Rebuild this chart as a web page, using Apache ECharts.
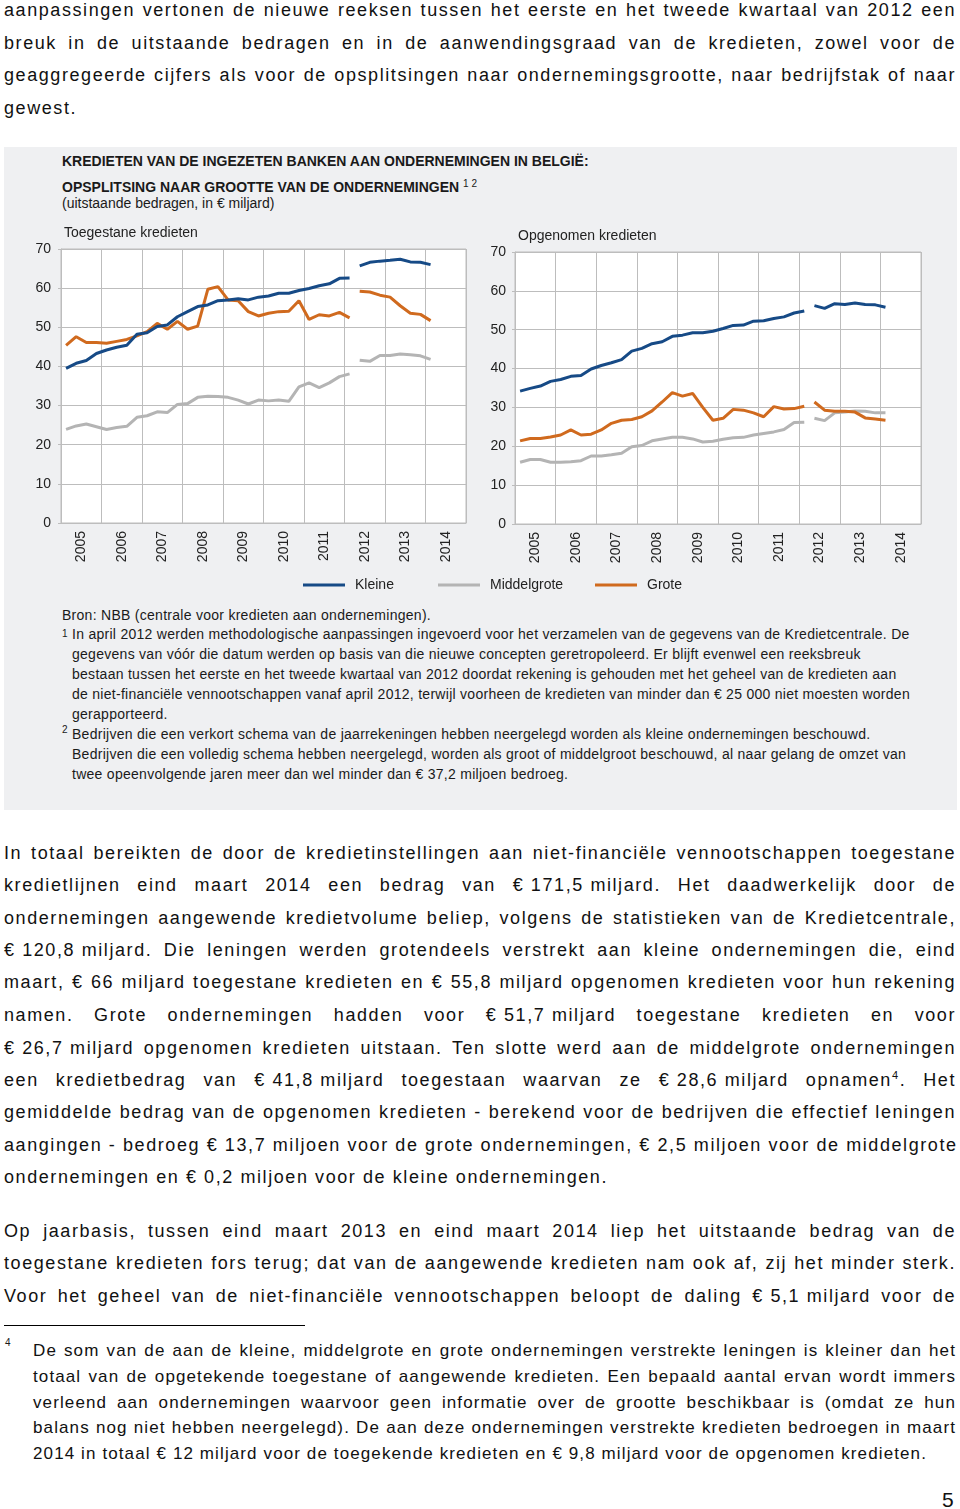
<!DOCTYPE html>
<html>
<head>
<meta charset="utf-8">
<script src="https://cdn.jsdelivr.net/npm/echarts@6/dist/echarts.min.js"></script>
<style>
  html, body { margin: 0; padding: 0; background: #fff; }
  body { width: 960px; height: 1509px; position: relative; overflow: hidden;
         font-family: "Liberation Sans", Arial, sans-serif; color: #111; }
  .ln { position: absolute; white-space: nowrap; }
  .body { left: 4px; width: 952px; font-size: 18px; height: 24px; line-height: 24px; }
  .fn { left: 33px; width: 923px; font-size: 17px; height: 22px; line-height: 22px; }
  .j { text-align: justify; text-align-last: justify; }
  .l { text-align: left; }
  .nb { display: inline-block; }
  sup { font-size: 11px; line-height: 0; vertical-align: 7px; }
  #box { position: absolute; left: 4px; top: 147px; width: 953px; height: 663px; background: #eff0f2; }
  .bx { position: absolute; white-space: nowrap; font-size: 14px; line-height: 18px; height: 18px; color: #1a1a1a; }
  .tb { font-weight: bold; }
  .mk { position: absolute; font-size: 10px; line-height: 12px; color: #1a1a1a; }
  #chart { position: absolute; left: 0; top: 220px; width: 960px; height: 380px; }
  #rule { position: absolute; left: 4px; top: 1325px; width: 301px; height: 0; border-top: 1.5px solid #000; }
</style>
</head>
<body>
<!-- paragraph before chart -->
<div class="ln body j" style="top:-2px">aanpassingen vertonen de nieuwe reeksen tussen het eerste en het tweede kwartaal van 2012 een</div>
<div class="ln body j" style="top:31px">breuk in de uitstaande bedragen en in de aanwendingsgraad van de kredieten, zowel voor de</div>
<div class="ln body j" style="top:63px">geaggregeerde cijfers als voor de opsplitsingen naar ondernemingsgrootte, naar bedrijfstak of naar</div>
<div class="ln body l" style="top:96px"><span>gewest.</span></div>

<div id="box"></div>
<div class="bx tb" style="left:62px; top:152px">KREDIETEN VAN DE INGEZETEN BANKEN AAN ONDERNEMINGEN IN BELGIË:</div>
<div class="bx tb" style="left:62px; top:175px">OPSPLITSING NAAR GROOTTE VAN DE ONDERNEMINGEN <span style="font-size:10px; vertical-align:5px; font-weight:normal">1 2</span></div>
<div class="bx" style="left:62px; top:194px">(uitstaande bedragen, in € miljard)</div>

<div id="chart"></div>

<div class="bx fb" id="bron" style="left:62px; top:606px"><span>Bron: NBB (centrale voor kredieten aan ondernemingen).</span></div>
<div class="mk" style="left:62px; top:628px">1</div>
<div class="bx fb" style="left:72px; top:625px">In april 2012 werden methodologische aanpassingen ingevoerd voor het verzamelen van de gegevens van de Kredietcentrale. De</div>
<div class="bx fb" style="left:72px; top:645px">gegevens van vóór die datum werden op basis van die nieuwe concepten geretropoleerd. Er blijft evenwel een reeksbreuk</div>
<div class="bx fb" style="left:72px; top:665px">bestaan tussen het eerste en het tweede kwartaal van 2012 doordat rekening is gehouden met het geheel van de kredieten aan</div>
<div class="bx fb" style="left:72px; top:685px">de niet-financiële vennootschappen vanaf april 2012, terwijl voorheen de kredieten van minder dan € 25 000 niet moesten worden</div>
<div class="bx fb" style="left:72px; top:705px">gerapporteerd.</div>
<div class="mk" style="left:62px; top:724px">2</div>
<div class="bx fb" style="left:72px; top:725px">Bedrijven die een verkort schema van de jaarrekeningen hebben neergelegd worden als kleine ondernemingen beschouwd.</div>
<div class="bx fb" style="left:72px; top:745px">Bedrijven die een volledig schema hebben neergelegd, worden als groot of middelgroot beschouwd, al naar gelang de omzet van</div>
<div class="bx fb" style="left:72px; top:765px">twee opeenvolgende jaren meer dan wel minder dan € 37,2 miljoen bedroeg.</div>

<!-- paragraph after chart -->
<div class="ln body j" style="top:841px">In totaal bereikten de door de kredietinstellingen aan niet-financiële vennootschappen toegestane</div>
<div class="ln body j" style="top:873px">kredietlijnen eind maart 2014 een bedrag van <span class="nb">€ 171,5 miljard</span>. Het daadwerkelijk door de</div>
<div class="ln body j" style="top:906px">ondernemingen aangewende kredietvolume beliep, volgens de statistieken van de Kredietcentrale,</div>
<div class="ln body j" style="top:938px"><span class="nb">€ 120,8 miljard</span>. Die leningen werden grotendeels verstrekt aan kleine ondernemingen die, eind</div>
<div class="ln body j" style="top:970px">maart, € 66 miljard toegestane kredieten en € 55,8 miljard opgenomen kredieten voor hun rekening</div>
<div class="ln body j" style="top:1003px">namen. Grote ondernemingen hadden voor <span class="nb">€ 51,7 miljard</span> toegestane kredieten en voor</div>
<div class="ln body j" style="top:1036px"><span class="nb">€ 26,7 miljard</span> opgenomen kredieten uitstaan. Ten slotte werd aan de middelgrote ondernemingen</div>
<div class="ln body j" style="top:1068px">een kredietbedrag van <span class="nb">€ 41,8 miljard</span> toegestaan waarvan ze <span class="nb">€ 28,6 miljard</span> opnamen<sup>4</sup>. Het</div>
<div class="ln body j" style="top:1100px">gemiddelde bedrag van de opgenomen kredieten - berekend voor de bedrijven die effectief leningen</div>
<div class="ln body j" style="top:1133px">aangingen - bedroeg <span class="nb">€ 13,7 miljoen</span> voor de grote ondernemingen, <span class="nb">€ 2,5 miljoen</span> voor de middelgrote</div>
<div class="ln body l" style="top:1165px"><span id="p2last">ondernemingen en € 0,2 miljoen voor de kleine ondernemingen.</span></div>

<div class="ln body j" style="top:1219px">Op jaarbasis, tussen eind maart 2013 en eind maart 2014 liep het uitstaande bedrag van de</div>
<div class="ln body j" style="top:1251px">toegestane kredieten fors terug; dat van de aangewende kredieten nam ook af, zij het minder sterk.</div>
<div class="ln body j" style="top:1284px">Voor het geheel van de niet-financiële vennootschappen beloopt de daling <span class="nb">€ 5,1 miljard</span> voor de</div>

<div id="rule"></div>
<div class="mk" style="left:5px; top:1337px">4</div>
<div class="ln fn j" style="top:1340px">De som van de aan de kleine, middelgrote en grote ondernemingen verstrekte leningen is kleiner dan het</div>
<div class="ln fn j" style="top:1366px">totaal van de opgetekende toegestane of aangewende kredieten. Een bepaald aantal ervan wordt immers</div>
<div class="ln fn j" style="top:1392px">verleend aan ondernemingen waarvoor geen informatie over de grootte beschikbaar is (omdat ze hun</div>
<div class="ln fn j" style="top:1417px">balans nog niet hebben neergelegd). De aan deze ondernemingen verstrekte kredieten bedroegen in maart</div>
<div class="ln fn l" style="top:1443px"><span id="fnlast">2014 in totaal € 12 miljard voor de toegekende kredieten en € 9,8 miljard voor de opgenomen kredieten.</span></div>

<div class="ln" style="left:942px; top:1488px; font-size:21px; line-height:24px;">5</div>

<script>
// ---------------- data ----------------
const years = ['2005','2006','2007','2008','2009','2010','2011','2012','2013','2014'];
const quarters = [];
years.forEach(y => ['K1','K2','K3','K4'].forEach(q => quarters.push(y + ' ' + q)));
// first quarter of the new series (2012 K2); series break between 2012 K1 and 2012 K2
const breakIndex = 29;

const seriesNames = ['Kleine', 'Middelgrote', 'Grote'];

// Toegestane kredieten (2005 K1 .. 2014 K1)
const toegestaanKleine = [39.5,40.8,41.5,43.3,44.2,44.9,45.4,48.2,48.6,50.2,50.6,52.7,54.0,55.3,55.7,56.8,57.0,57.3,57.0,57.7,58.0,58.7,58.7,59.4,59.9,60.6,61.1,62.5,62.6,
                          65.7,66.6,66.9,67.1,67.4,66.7,66.6,66.0];
const toegestaanMiddelgrote = [23.9,24.8,25.3,24.6,23.9,24.4,24.7,27.0,27.4,28.4,28.2,30.3,30.5,32.1,32.4,32.3,32.1,31.4,30.4,31.4,31.2,31.4,31.1,34.8,35.8,34.6,35.8,37.4,38.1,
                          41.6,41.3,42.8,42.8,43.2,43.0,42.7,41.8];
const toegestaanGrote = [45.4,47.6,46.1,46.1,45.9,46.4,46.9,47.8,48.9,51.0,49.5,51.5,49.5,50.3,59.7,60.4,57.0,56.8,54.0,52.9,53.6,54.0,54.1,56.8,52.0,53.2,52.9,53.8,52.4,
                          59.2,59.0,58.2,57.7,55.5,53.6,53.3,51.7];

// Opgenomen kredieten
const opgenomenKleine = [34.2,34.9,35.5,36.7,37.2,38.0,38.2,39.9,40.8,41.5,42.3,44.5,45.2,46.4,46.9,48.3,48.6,49.2,49.2,49.6,50.3,51.1,51.2,52.2,52.3,52.9,53.3,54.3,54.8,
                         56.2,55.5,56.7,56.5,56.9,56.5,56.4,55.8];
const opgenomenMiddelgrote = [15.9,16.6,16.6,15.9,15.9,16.0,16.3,17.5,17.5,17.8,18.2,19.9,20.2,21.4,21.9,22.3,22.3,21.9,21.1,21.3,21.8,22.2,22.3,22.9,23.3,23.7,24.3,26.1,26.2,
                         27.2,26.6,28.6,28.8,29.1,29.0,28.6,28.6];
const opgenomenGrote = [21.4,22.0,22.0,22.4,22.9,24.2,22.9,23.1,24.2,25.9,26.7,26.9,27.6,29.1,31.4,33.8,32.9,33.6,30.0,26.7,27.2,29.5,29.3,28.6,27.6,30.2,29.6,29.7,30.3,
                         31.4,29.3,29.0,29.0,28.8,27.3,27.0,26.7];

const yTicks = { min: 0, max: 70, interval: 10 };

// ---------------- text fitting ----------------
function fitGroup(sel, refEl, target) {
  const els = document.querySelectorAll(sel);
  els.forEach(e => e.style.letterSpacing = '0px');
  const w = refEl.getBoundingClientRect().width;
  const n = refEl.textContent.length;
  const ls = (target - w) / n;
  els.forEach(e => e.style.letterSpacing = ls + 'px');
}
fitGroup('.body', document.getElementById('p2last'), 604);
fitGroup('.fn', document.getElementById('fnlast'), 894);
fitGroup('.fb', document.querySelector('#bron span'), 369);

// ---------------- chart ----------------
const colors = { Kleine: '#164a86', Middelgrote: '#b4b4b4', Grote: '#d06a1e' };
const FONT = '"Liberation Sans", Arial, sans-serif';
const gridColor = '#bdbdbd';

const grids = [
  { left: 61, top: 29, width: 405, height: 274 },
  { left: 515, top: 32, width: 406, height: 272 }
];

function split(arr) {
  const full = quarters.map((q, i) => (i < arr.length ? arr[i] : null));
  return [
    full.map((v, i) => (i < breakIndex ? v : null)),
    full.map((v, i) => (i >= breakIndex ? v : null))
  ];
}

const xAxes = [], yAxes = [], series = [];
grids.forEach((g, gi) => {
  xAxes.push({
    type: 'category', gridIndex: gi, data: quarters, boundaryGap: true, show: false, position: 'top'
  });
  xAxes.push({
    type: 'category', gridIndex: gi, data: years, boundaryGap: true, position: 'bottom',
    axisLine: { show: true, lineStyle: { color: gridColor, width: 1 } },
    axisTick: { show: false },
    splitLine: { show: true, lineStyle: { color: gridColor, width: 1 } },
    axisLabel: { rotate: 90, fontSize: 14, color: '#222', fontFamily: FONT, margin: 8, interval: 0 }
  });
  yAxes.push({
    type: 'value', gridIndex: gi, min: yTicks.min, max: yTicks.max, interval: yTicks.interval,
    axisLine: { show: true, lineStyle: { color: gridColor, width: 1 } },
    axisTick: { show: true, length: 3, lineStyle: { color: gridColor } },
    splitLine: { show: true, lineStyle: { color: gridColor, width: 1 } },
    axisLabel: { fontSize: 14, color: '#222', fontFamily: FONT, margin: gi === 0 ? 10 : 9 }
  });
});

const panels = [
  { Kleine: toegestaanKleine, Middelgrote: toegestaanMiddelgrote, Grote: toegestaanGrote },
  { Kleine: opgenomenKleine, Middelgrote: opgenomenMiddelgrote, Grote: opgenomenGrote }
];
panels.forEach((p, gi) => {
  ['Middelgrote', 'Grote', 'Kleine'].forEach(name => {
    split(p[name]).forEach(part => {
      series.push({
        name, type: 'line', xAxisIndex: gi * 2, yAxisIndex: gi, data: part,
        symbol: 'none', showSymbol: false, connectNulls: false,
        lineStyle: { color: colors[name], width: 3 }, itemStyle: { color: colors[name] },
        animation: false
      });
    });
  });
});

const legendLefts = [303, 438, 595];
const legends = seriesNames.map((n, i) => ({
  data: [n], left: legendLefts[i], top: 358, padding: 0, itemWidth: 42, itemHeight: 14,
  icon: 'path://M0,5.5 L42,5.5 L42,8.5 L0,8.5 Z',
  textStyle: { fontSize: 14, color: '#222', fontFamily: FONT, padding: [0, 0, 0, 5] }, selectedMode: false
}));

const chart = echarts.init(document.getElementById('chart'), null, { renderer: 'canvas' });
chart.setOption({
  animation: false,
  backgroundColor: 'transparent',
  textStyle: { fontFamily: FONT },
  title: [
    { text: 'Toegestane kredieten', left: 59, top: 1, textStyle: { fontSize: 14, fontWeight: 'normal', color: '#222', fontFamily: FONT } },
    { text: 'Opgenomen kredieten', left: 513, top: 4, textStyle: { fontSize: 14, fontWeight: 'normal', color: '#222', fontFamily: FONT } }
  ],
  legend: legends,
  grid: grids.map(g => Object.assign({ show: true, backgroundColor: '#fff', borderColor: gridColor, borderWidth: 1, containLabel: false }, g)),
  xAxis: xAxes,
  yAxis: yAxes,
  series
});
</script>
</body>
</html>
